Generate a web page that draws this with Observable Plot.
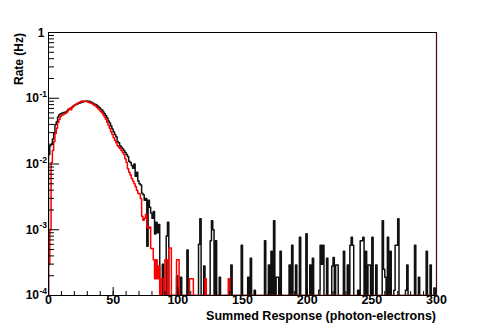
<!DOCTYPE html>
<html><head><meta charset="utf-8">
<script src="https://cdn.jsdelivr.net/npm/d3@7"></script>
<script src="https://cdn.jsdelivr.net/npm/@observablehq/plot@0.6"></script>
<style>
body{margin:0;background:#fff;}
#chart svg{font-family:"Liberation Sans",Arial,sans-serif;font-weight:bold;}
</style>
</head><body><div id="chart"></div>
<script>
// ---- data: rate per 1 p.e. bin (bins 0..89 read bin by bin, tail as [bin, rate]) ----
const blackBody = [
  0.014,0.019,0.02,0.024,0.03,0.04,0.044,0.052,0.056,0.058,
  0.059,0.06,0.061,0.062,0.064,0.068,0.07,0.071,0.073,0.076,
  0.079,0.08,0.082,0.084,0.085,0.087,0.088,0.089,0.09,0.091,
  0.09,0.09,0.088,0.087,0.084,0.082,0.08,0.078,0.075,0.072,
  0.068,0.066,0.062,0.058,0.054,0.05,0.045,0.042,0.038,0.034,
  0.031,0.028,0.026,0.022,0.021,0.019,0.018,0.017,0.016,0.015,
  0.014,0.013,0.011,0.0105,0.0095,0.0086,0.01,0.0065,0.0075,0.0055,
  0.005,0.0048,0.0036,0.0034,0.0028,0.003,0.00056,0.0028,0.0022,0.0018,
  0.0015,0.0019,0.00086,0.0013,0.0009,0.0012,0,0,0.0003,0
];
const blackTail = [
  [91,8e-4],[92,1.3e-3],[99,2e-4],[102,1.9e-4],[107,4.9e-4],[116,6e-4],[117,1.47e-3],
  [120,2.8e-4],[125,6.8e-4],[126,1.37e-3],[127,1.0e-3],[129,6.8e-4],[132,1.9e-4],
  [141,2.9e-4],[149,5.8e-4],[154,1.9e-4],[156,3.7e-4],[159,1.2e-4],[167,6.8e-4],
  [170,2.9e-4],[172,4.7e-4],[174,1.37e-3],[176,1.9e-4],[177,1.9e-4],[179,4.7e-4],
  [186,2.9e-4],[188,5.8e-4],[191,2.9e-4],[194,7.7e-4],[199,8.7e-4],[202,2.9e-4],
  [204,3.7e-4],[209,1.2e-4],[210,5.8e-4],[211,3e-4],[212,5.8e-4],[215,3.7e-4],
  [219,2.8e-4],[220,3.8e-4],[222,2.9e-4],[223,2.9e-4],[228,4.7e-4],[231,2.9e-4],
  [233,5.8e-4],[234,7.7e-4],[235,5.8e-4],[239,1.2e-4],[241,6.8e-4],[242,6.8e-4],
  [243,7.7e-4],[245,4.7e-4],[247,2.9e-4],[248,2.9e-4],[250,7.7e-4],[253,2.9e-4],
  [258,1.37e-3],[259,2.5e-4],[260,1.9e-4],[262,7.7e-4],[264,4.7e-4],[267,1.2e-4],
  [268,5.8e-4],[269,5.8e-4],[270,1.47e-3],[276,1.2e-4],[277,2.9e-4],[283,5.8e-4],
  [286,1.9e-4],[292,4.7e-4],[295,2.9e-4],[298,1.3e-4]
];
const redBody = [
  0.0003,0.001,0.0105,0.016,0.022,0.029,0.035,0.043,0.048,0.053,
  0.055,0.056,0.058,0.059,0.062,0.066,0.07,0.067,0.074,0.077,
  0.079,0.081,0.084,0.086,0.088,0.09,0.091,0.09,0.089,0.089,
  0.088,0.086,0.085,0.083,0.081,0.078,0.076,0.073,0.07,0.067,
  0.063,0.06,0.056,0.052,0.048,0.043,0.039,0.035,0.031,0.028,
  0.025,0.023,0.021,0.019,0.018,0.017,0.016,0.015,0.014,0.012,
  0.0105,0.0085,0.0075,0.0068,0.006,0.0055,0.005,0.0045,0.004,0.0036,
  0.0035,0.003,0.0016,0.0014,0.0015,0.0017,0.0011,0.00105,0.0011,0.00052,
  0.00052,0.00035,0.00018,0.00035,0.00018,0.00028,0,0.00018,0.00018,0
];
const redTail = [
  [90,3.5e-4],[91,3.5e-4],[93,5.3e-4],[94,5.3e-4],[99,3.5e-4],[100,3.5e-4],
  [109,1.8e-4],[110,1.8e-4],[111,1.8e-4],[121,1.8e-4],[139,1.8e-4]
];
const nBins = 300;
const xDomain = [0, 300];
const yDomain = [1e-4, 1];
const xMajorTicks = [0, 50, 100, 150, 200, 250, 300];
const xMinorTicks = d3.range(0, 301, 10);
const yMajorTicks = [1e-4, 1e-3, 1e-2, 1e-1, 1];
const yExponents = ["-4", "-3", "-2", "-1"];
const yMinorTicks = yMajorTicks.slice(0, 4).flatMap(d => [2,3,4,5,6,7,8,9].map(m => m * d));
const xTitle = "Summed Response (photon-electrons)";
const yTitle = "Rate (Hz)";

// ---- build step outlines ----
const floorV = yDomain[0];
function steps(body, tail) {
  const v = new Array(nBins).fill(0);
  body.forEach((d, i) => v[i] = d);
  tail.forEach(([b, d]) => v[b] = d);
  const pts = [{x: 0, y: floorV}];
  v.forEach((d, i) => pts.push({x: i, y: Math.max(d, floorV)}));
  pts.push({x: nBins, y: Math.max(v[nBins - 1], floorV)});
  return pts;
}
const black = steps(blackBody, blackTail);
const red = steps(redBody, redTail);

const W = 485, H = 328, mL = 48, mR = 49, mT = 32, mB = 33;
const iW = W - mL - mR, iH = H - mT - mB;

const chart = Plot.plot({
  width: W, height: H,
  marginLeft: mL, marginRight: mR, marginTop: mT, marginBottom: mB,
  style: {background: "#fff", color: "#000", fontFamily: "Liberation Sans, Arial, sans-serif", fontWeight: "bold"},
  x: {domain: xDomain, axis: null},
  y: {type: "log", domain: yDomain, axis: null},
  marks: [
    Plot.line(black, {x: "x", y: "y", curve: "step-after", stroke: "#111", strokeWidth: 1.5, clip: true}),
    Plot.line(red, {x: "x", y: "y", curve: "step-after", stroke: "#ff0000", strokeWidth: 1.5, clip: true}),
    Plot.ruleX(xMinorTicks, {x: d => d, insetTop: iH - 4, stroke: "#000", strokeWidth: 1}),
    Plot.ruleX(xMajorTicks, {x: d => d, insetTop: iH - 8, stroke: "#000", strokeWidth: 1}),
    Plot.ruleY(yMinorTicks, {y: d => d, insetRight: iW - 6, stroke: "#000", strokeWidth: 1}),
    Plot.ruleY(yMajorTicks, {y: d => d, insetRight: iW - 11, stroke: "#000", strokeWidth: 1}),
    Plot.frame({stroke: "#000", strokeWidth: 1}),
    Plot.ruleX([xDomain[1]], {stroke: "#4a0808", strokeWidth: 1.2}),
    Plot.text(xMajorTicks, {x: d => d, frameAnchor: "bottom", dy: 8.5, text: d => String(d), fontSize: 12.5, fontWeight: "bold", fill: "#000"}),
    Plot.text(yMajorTicks.slice(0, 4), {y: d => d, frameAnchor: "left", textAnchor: "end", dx: -9.5, dy: 0, text: () => "10", fontSize: 12, fontWeight: "bold", fill: "#000"}),
    Plot.text(yMajorTicks.slice(0, 4), {y: d => d, frameAnchor: "left", textAnchor: "end", dx: -1.5, dy: -4, text: (d, i) => yExponents[i], fontSize: 8.5, fontWeight: "bold", fill: "#000"}),
    Plot.text(yMajorTicks.slice(4), {y: d => d, frameAnchor: "left", textAnchor: "end", dx: -4, dy: 1, text: () => "1", fontSize: 12, fontWeight: "bold", fill: "#000"})
  ]
});

const svg = d3.select(chart);
svg.append("text")
  .attr("x", mL + iW).attr("y", 319.5)
  .attr("text-anchor", "end")
  .attr("font-size", 12.5).attr("font-weight", "bold").attr("fill", "#000")
  .text(xTitle);
svg.append("text")
  .attr("transform", `translate(22.5,${mT + 1}) rotate(-90)`)
  .attr("text-anchor", "end")
  .attr("font-size", 12).attr("font-weight", "bold").attr("fill", "#000")
  .text(yTitle);

document.getElementById("chart").appendChild(chart);
</script>
</body></html>
